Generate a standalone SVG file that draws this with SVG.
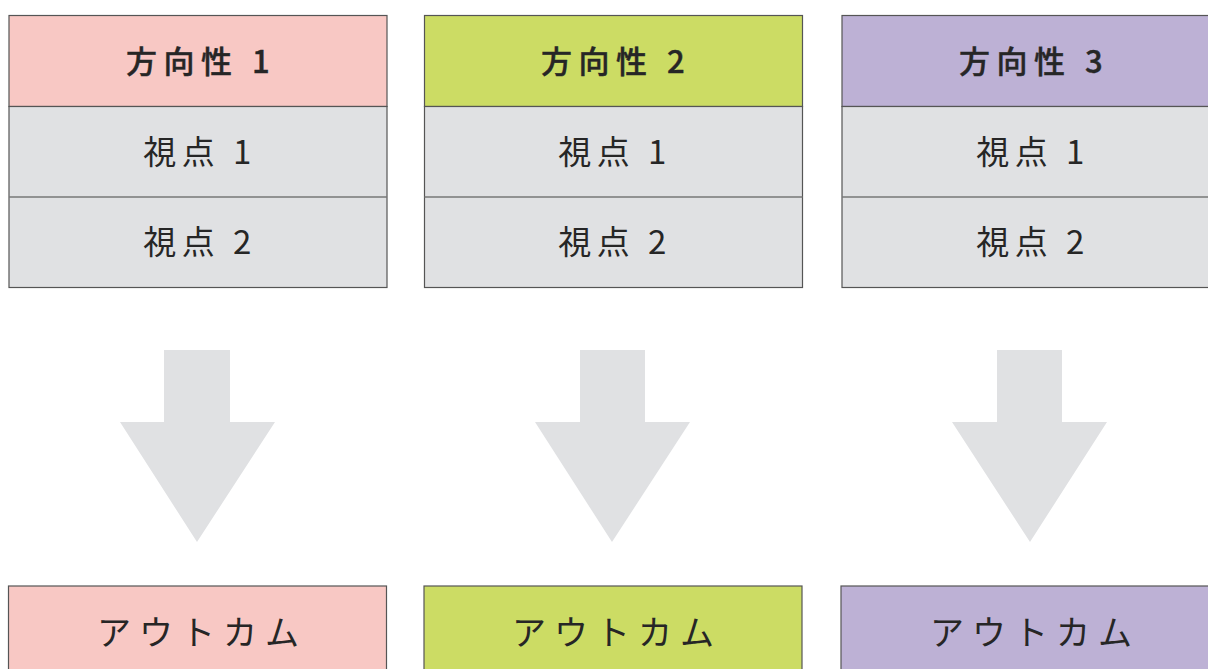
<svg xmlns="http://www.w3.org/2000/svg" width="1208" height="669" viewBox="0 0 1208 669">
<style>
.box{stroke:#555;stroke-width:1.2}
.div{stroke:#777;stroke-width:1.5;fill:none}
.pink{fill:#F8C8C4}.green{fill:#CCDC64}.purple{fill:#BDB1D5}.gray{fill:#E0E1E3}
.arrow{fill:#E0E1E3}
text{font-family:"Noto Sans CJK JP","Noto Sans",sans-serif;fill:#262626;text-anchor:middle;dominant-baseline:central}
.h{font-size:31px;font-weight:500;letter-spacing:6.5px;stroke:#262626;stroke-width:0.4}
.v{font-size:33px;letter-spacing:5.5px}
.o{font-size:34px;letter-spacing:8px}
</style>
<rect width="1208" height="669" fill="#fff"/>
<g id="col1">
<rect class="box pink" x="9" y="15.5" width="378" height="91"/>
<rect class="box gray" x="9" y="106.5" width="378" height="181"/>
<line class="div" x1="9" y1="197" x2="387" y2="197"/>
<text class="h" x="201" y="59">方向性 1</text>
<text class="v" x="200" y="150">視点 1</text>
<text class="v" x="200" y="240">視点 2</text>
</g>
<g id="col2">
<rect class="box green" x="424.5" y="15.5" width="378" height="91"/>
<rect class="box gray" x="424.5" y="106.5" width="378" height="181"/>
<line class="div" x1="424.5" y1="197" x2="802.5" y2="197"/>
<text class="h" x="616" y="59">方向性 2</text>
<text class="v" x="615" y="150">視点 1</text>
<text class="v" x="615" y="240">視点 2</text>
</g>
<g id="col3">
<rect class="box purple" x="842" y="15.5" width="378" height="91"/>
<rect class="box gray" x="842" y="106.5" width="378" height="181"/>
<line class="div" x1="842" y1="197" x2="1220" y2="197"/>
<text class="h" x="1034" y="59">方向性 3</text>
<text class="v" x="1033" y="150">視点 1</text>
<text class="v" x="1033" y="240">視点 2</text>
</g>
<g id="connectors">
<polygon class="arrow" points="164,350 230,350 230,422 275,422 197,542 120,422 164,422"/>
<polygon class="arrow" points="580,350 645,350 645,422 690,422 612,542 535,422 580,422"/>
<polygon class="arrow" points="997,350 1062,350 1062,422 1107,422 1030,542 952,422 997,422"/>
</g>
<g id="out1">
<rect class="box pink" x="8.5" y="586" width="378" height="100"/>
<text class="o" x="202" y="630">アウトカム</text>
</g>
<g id="out2">
<rect class="box green" x="424" y="586" width="378" height="100"/>
<text class="o" x="617" y="630">アウトカム</text>
</g>
<g id="out3">
<rect class="box purple" x="841" y="586" width="378" height="100"/>
<text class="o" x="1035" y="630">アウトカム</text>
</g>
</svg>
